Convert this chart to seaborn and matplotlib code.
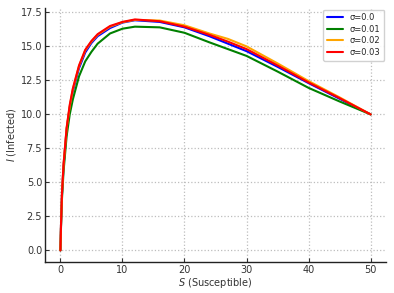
import matplotlib
matplotlib.use("Agg")
import matplotlib.pyplot as plt
import numpy as np
import pandas as pd
import seaborn as sns


S_VALUES = [50, 45, 40, 35, 30, 27, 24, 20, 16, 12, 10, 8, 6, 5, 4, 3, 2, 1.5, 1, 0.5, 0.25, 0.1, 0]
I_SIGMA_000 = [10, 11.15, 12.3, 13.5, 14.65, 15.2, 15.75, 16.4, 16.8, 16.92, 16.75, 16.35, 15.75,
               15.25, 14.55, 13.4, 11.7, 10.5, 8.9, 6.2, 4.1, 2.0, 0]
I_SIGMA_001 = [10, 10.95, 11.95, 13.15, 14.3, 14.8, 15.3, 16.0, 16.4, 16.45, 16.3, 15.95, 15.2,
               14.6, 13.9, 12.8, 11.1, 10.0, 8.4, 5.8, 3.8, 1.8, 0]
I_SIGMA_002 = [10, 11.25, 12.45, 13.75, 15.0, 15.55, 15.95, 16.55, 16.9, 16.95, 16.78, 16.45, 15.85,
               15.35, 14.7, 13.55, 11.85, 10.6, 9.0, 6.3, 4.2, 2.0, 0]
I_SIGMA_003 = [10, 11.2, 12.35, 13.6, 14.8, 15.35, 15.85, 16.45, 16.85, 16.98, 16.8, 16.5, 15.9,
               15.4, 14.75, 13.6, 11.9, 10.7, 9.0, 6.3, 4.2, 2.0, 0]

LABELS = ["σ=0.0", "σ=0.01", "σ=0.02", "σ=0.03"]
COLORS = ["blue", "green", "orange", "red"]


def main():
    series = [I_SIGMA_000, I_SIGMA_001, I_SIGMA_002, I_SIGMA_003]
    frames = []
    for label, values in zip(LABELS, series):
        frames.append(pd.DataFrame({"S": S_VALUES, "I": values, "sigma": label}))
    df = pd.concat(frames, ignore_index=True)

    sns.set_style("ticks")
    plt.rcParams["font.family"] = ["DejaVu Sans"]

    fig = plt.figure(figsize=(3.94, 2.93), dpi=100)
    ax = fig.add_axes([0.114, 0.106, 0.866, 0.867])
    sns.lineplot(
        data=df, x="S", y="I", hue="sigma", palette=dict(zip(LABELS, COLORS)),
        sort=False, estimator=None, linewidth=1.5, ax=ax,
    )
    ax.set_xticks([0, 10, 20, 30, 40, 50])
    ax.set_yticks(np.arange(0, 17.6, 2.5))
    ax.grid(True, linestyle=":", color="#bdbdbd", linewidth=0.9)
    sns.despine(ax=ax)
    ax.tick_params(direction="in", labelsize=7, length=3, width=0.8, pad=2, colors="#333333")
    for side in ["left", "bottom"]:
        ax.spines[side].set_linewidth(1.0)
        ax.spines[side].set_color("#222222")
    ax.set_xlabel("$S$ (Susceptible)", fontsize=7, color="#333333", labelpad=1)
    ax.set_ylabel("$I$ (Infected)", fontsize=7, color="#333333", labelpad=2)
    ax.legend(loc="upper right", fontsize=6, title=None, handlelength=2.0,
              borderpad=0.45, labelspacing=0.3, borderaxespad=0.2, framealpha=0.9)
    fig.savefig("out.png", dpi=100)


if __name__ == "__main__":
    main()
